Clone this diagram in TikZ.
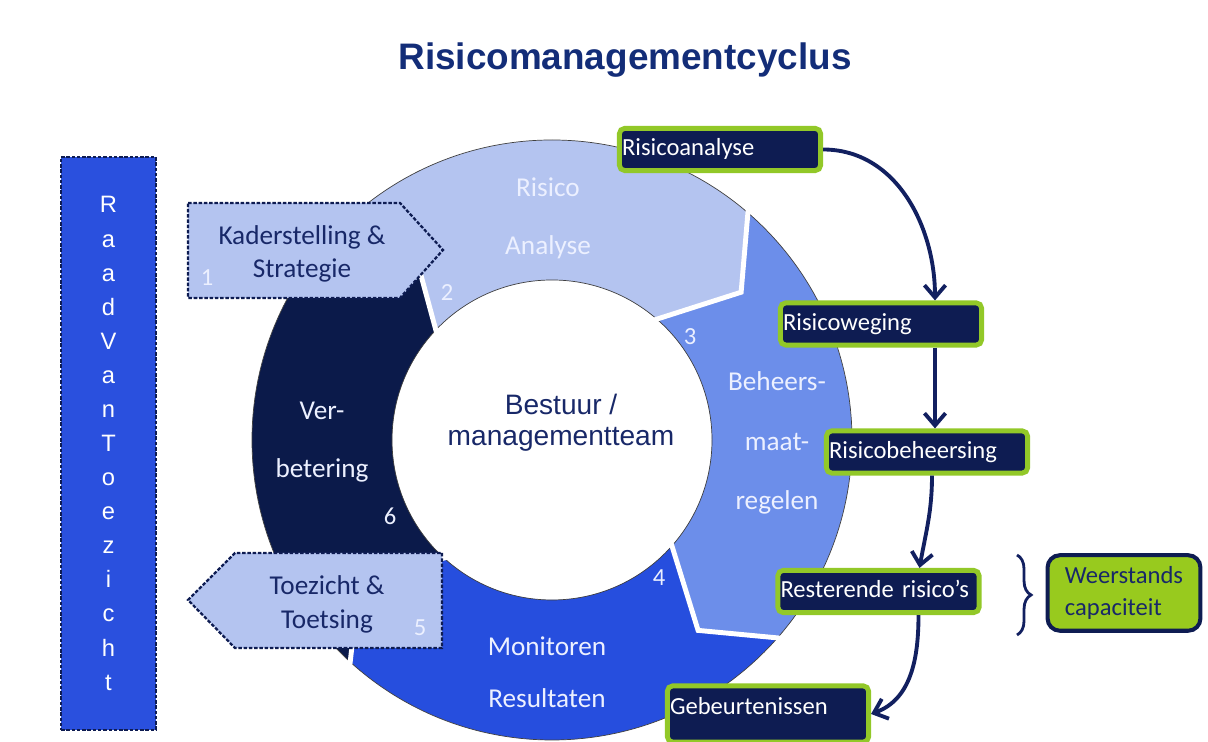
\documentclass[tikz,border=0pt]{standalone}
\usepackage{fontspec}
\setmainfont{Carlito}
\newfontfamily\arialfont{Liberation Sans}
\usetikzlibrary{arrows.meta, calc, decorations.pathreplacing}

\definecolor{segLight}{RGB}{180,196,240}
\definecolor{segMid}{RGB}{108,142,234}
\definecolor{segBlue}{RGB}{38,78,222}
\definecolor{segDark}{RGB}{11,26,74}
\definecolor{boxNavy}{RGB}{14,28,82}
\definecolor{limeLine}{RGB}{146,200,40}
\definecolor{limeFill}{RGB}{152,202,30}
\definecolor{arrowNavy}{RGB}{18,32,96}
\definecolor{titleBlue}{RGB}{19,45,120}
\definecolor{textNavy}{RGB}{24,40,104}
\definecolor{raadBlue}{RGB}{42,80,222}
\definecolor{ringWhite}{RGB}{236,240,255}

\tikzset{
  riskbox/.style={draw=limeLine, line width=2.8pt, fill=boxNavy, rounded corners=3pt,
    text=white, minimum height=24pt, text width=111.5pt, inner xsep=1.5pt,
    align=left, text height=10pt, text depth=3pt, font=\fontsize{14}{16}\selectfont},
  ringtext/.style={text=ringWhite, align=center, font=\fontsize{15.5}{33}\selectfont},
  stepnum/.style={text=ringWhite, font=\fontsize{14}{16}\selectfont},
  dashbox/.style={draw=boxNavy, line width=1.3pt, dash pattern=on 2pt off 1pt},
  boxtext/.style={text=textNavy, align=center, font=\fontsize{15.5}{19}\selectfont},
  flowarrow/.style={draw=arrowNavy, line width=2.2pt, -{Straight Barb[length=7pt,width=12pt]}},
  braceline/.style={draw=arrowNavy, line width=1.6pt, decorate,
    decoration={brace, amplitude=8pt}},
  capbox/.style={draw=boxNavy, line width=2.3pt, fill=limeFill, rounded corners=7pt,
    minimum width=87pt, minimum height=43pt, text=textNavy, align=left,
    font=\fontsize{14}{18}\selectfont},
  raadbox/.style={dashbox, fill=raadBlue, minimum width=54pt, minimum height=326pt,
    text=white, align=center, font=\arialfont\fontsize{13.5}{19.4}\selectfont},
}

\begin{document}
\begin{tikzpicture}[x=0.02cm, y=0.02cm]
  \useasboundingbox (0,0) rectangle (1208,742);

  % ring
  \begin{scope}[shift={(552,302)}]
    \foreach \s/\e/\c in {137/49.5/segLight, 49.5/-41/segMid, -41/-132/segBlue, -132/-223/segDark}
      \fill[\c] (\s:300) arc[start angle=\s, end angle=\e, radius=300] -- ({\e-11.5}:240)
        -- (\e:160) arc[start angle=\e, end angle=\s, radius=160] -- ({\s-11.5}:240) -- cycle;
    \draw[black!75, thin] (0,0) circle[radius=300];
    \draw[black!75, thin] (0,0) circle[radius=160];
    \foreach \a in {137,49.5,-41,-132}
      \draw[white, line width=2.8pt] (\a:302) -- ({\a-11.5}:240) -- (\a:158);
  \end{scope}

  \node[ringtext] (analyseseg) at (548,524) {Risico\\Analyse};
  \node[ringtext, font=\fontsize{15.5}{34}\selectfont] (maatseg) at (777,299) {Beheers-\\maat-\\regelen};
  \node[ringtext, font=\fontsize{15.5}{29.5}\selectfont] (monitorseg) at (547,70) {Monitoren\\Resultaten};
  \node[ringtext] (verseg) at (322,300) {Ver-\\betering};
  \node[text=textNavy, align=center, font=\arialfont\fontsize{16}{17.6}\selectfont] (bestuur) at (561,319.5) {Bestuur /\\managementteam};

  \foreach \n/\x/\y in {2/447/449, 3/690/405, 4/659/164, 6/390/226}
    \node[stepnum] (num\n) at (\x,\y) {\n};

  % side arrows
  \draw[dashbox, fill=segLight] (188,539) -- (400,539) -- (443,492) -- (400,444) -- (188,444) -- cycle;
  \node[boxtext] (kader) at (302,488) {Kaderstelling \&\\Strategie};
  \node[stepnum] (num1) at (207,464) {1};
  \draw[dashbox, fill=segLight] (442,189) -- (442,94) -- (235,94) -- (188,142) -- (235,189) -- cycle;
  \node[boxtext] (toezicht) at (327,137.5) {Toezicht \&\\Toetsing};
  \node[stepnum] (num5) at (420,114) {5};

  % risk steps
  \node[riskbox] (analyse) at (720,592.5) {Risicoanalyse};
  \node[riskbox] (weging) at (881,418) {Risicoweging};
  \node[riskbox] (beheersing) at (927,290) {Risicobeheersing};
  \node[riskbox] (resterend) at (878.5,150.5) {Resterende risico's};
  \node[riskbox, minimum height=32pt, text depth=9.8pt] (gebeurt) at (768,28) {Gebeurtenissen};

  \draw[flowarrow] (analyse.east) to[out=0, in=90] ($(weging.north)+(54,0)$);
  \draw[flowarrow] ($(weging.south)+(54,0)$) -- ($(beheersing.north)+(8,0)$);
  \draw[flowarrow] ($(beheersing.south)+(5,0)$) to[out=-90, in=80] ($(resterend.north)+(41,0)$);
  \draw[flowarrow] ($(resterend.south)+(40,0)$) to[out=-90, in=20] (gebeurt.east);

  \coordinate (bracetop) at (1017,187);
  \coordinate (bracebot) at (1017,107);
  \draw[braceline] (bracetop) -- (bracebot);
  \node[capbox] (weerstand) at (1124,149) {Weerstands\\capaciteit};

  \node[raadbox] (raad) at (108.5,298.5) {R\\a\\a\\d\\V\\a\\n\\T\\o\\e\\z\\i\\c\\h\\t};

  \node[text=titleBlue, font=\arialfont\bfseries\fontsize{21}{25}\selectfont] (title) at (625,682) {Risicomanagementcyclus};
\end{tikzpicture}
\end{document}
